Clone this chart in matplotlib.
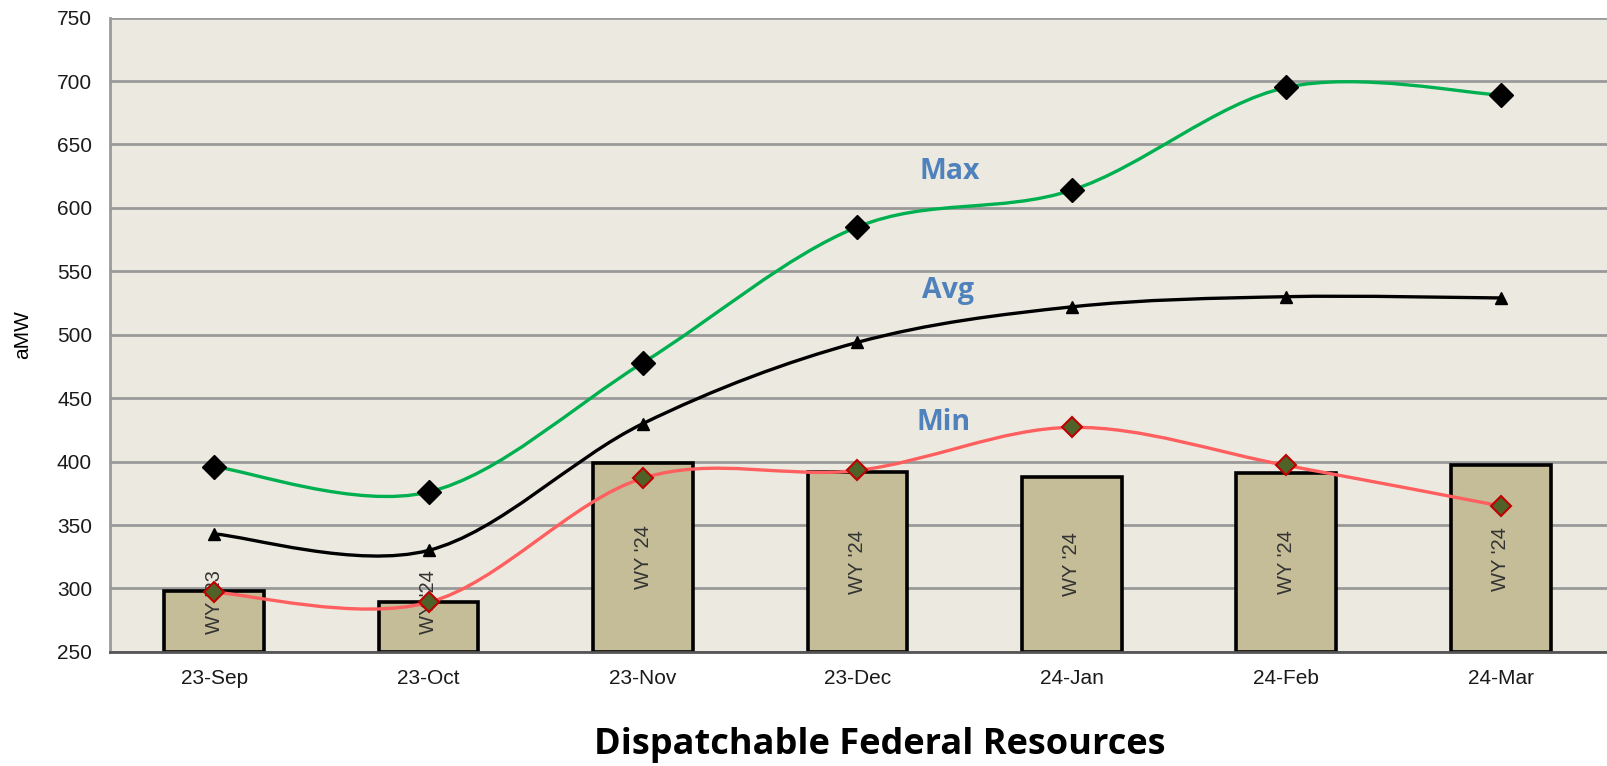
import numpy as np
import matplotlib
matplotlib.use('Agg')
import matplotlib.pyplot as plt
from matplotlib.path import Path
import matplotlib.patches as patches

# chart data
months = ['23-Sep', '23-Oct', '23-Nov', '23-Dec', '24-Jan', '24-Feb', '24-Mar']
bar_values = [298, 289, 399, 392, 388, 391, 397]
bar_labels = ["WY '23", "WY '24", "WY '24", "WY '24", "WY '24", "WY '24", "WY '24"]
max_values = [396, 376, 478, 585, 614, 695, 689]
avg_values = [343, 330, 430, 494, 522, 530, 529]
min_values = [297, 289, 387, 393, 427, 397, 365]


def smooth_path(xs, ys):
    """
    Bezier path through the points, similar to a spreadsheet 'smoothed line'.
    """
    pts = np.column_stack([xs, ys]).astype(float)
    n = len(pts)
    verts = [pts[0]]
    codes = [Path.MOVETO]
    for i in range(n - 1):
        p_prev = pts[i - 1] if i > 0 else pts[i]
        p_next2 = pts[i + 2] if i + 2 < n else pts[i + 1]
        c1 = pts[i] + (pts[i + 1] - p_prev) / 6.0
        c2 = pts[i + 1] - (p_next2 - pts[i]) / 6.0
        verts += [c1, c2, pts[i + 1]]
        codes += [Path.CURVE4] * 3
    return Path(verts, codes)


fig = plt.figure(figsize=(16.08, 7.66), dpi=100)
ax = fig.add_axes([0.0685, 0.149, 0.9315, 0.828])
ax.set_facecolor('#ECEAE0')

x = np.arange(len(months))

# bars
ax.bar(x, [v - 250 for v in bar_values], bottom=250, width=0.465,
       color='#C4BD97', edgecolor='black', linewidth=2.6, zorder=2)
for xi, v, lab in zip(x, bar_values, bar_labels):
    # short bars: label overflows above the bar
    ax.text(xi, max((v + 250) / 2, 289), lab, rotation=90, ha='center', va='center',
            fontsize=14.5, color='#333333', family='Liberation Sans', zorder=2.5)

# smoothed lines
for vals, col in [(max_values, '#00B050'), (avg_values, 'black'), (min_values, '#FF5F5F')]:
    ax.add_patch(patches.PathPatch(smooth_path(x, vals), facecolor='none',
                                   edgecolor=col, linewidth=2.4, zorder=3))

ax.plot(x, max_values, linestyle='none', marker='D', markersize=12.5,
        color='black', zorder=4)
ax.plot(x, avg_values, linestyle='none', marker='^', markersize=8.5,
        color='black', zorder=4)
ax.plot(x, min_values, linestyle='none', marker='D', markersize=10,
        markerfacecolor='#4F6228', markeredgecolor='#C00000', markeredgewidth=1.5, zorder=4)

# series labels
lab_font = dict(fontsize=20.5, fontweight='bold', color='#4F81BD', family='Open Sans',
                ha='center', va='center', zorder=5)
ax.text(3.43, 629, 'Max', **lab_font)
ax.text(3.42, 535, 'Avg', **lab_font)
ax.text(3.40, 431, 'Min', **lab_font)

# axes formatting
ax.set_xlim(-0.485, 6.5)
ax.set_ylim(250, 750)
ax.set_yticks(range(250, 751, 50))
ax.set_xticks(x)
ax.set_xticklabels(months)
ax.yaxis.grid(True, color='#9A9A9A', linewidth=2)
ax.set_axisbelow(True)
ax.tick_params(axis='both', length=0, labelsize=15, labelcolor='#1A1A1A')
ax.tick_params(axis='y', pad=13)
ax.tick_params(axis='x', pad=12)
for lab in ax.get_xticklabels() + ax.get_yticklabels():
    lab.set_family('Liberation Sans')
for side in ['top', 'right']:
    ax.spines[side].set_visible(False)
ax.spines['left'].set_color('#9A9A9A')
ax.spines['left'].set_linewidth(2)
ax.spines['bottom'].set_color('#555555')
ax.spines['bottom'].set_linewidth(2)

ax.set_ylabel('aMW', fontsize=15, family='Liberation Sans', labelpad=10)
ax.yaxis.set_label_coords(-0.052, 0.5)

fig.text(0.547, 0.027, 'Dispatchable Federal Resources', ha='center', va='center',
         fontsize=26, fontweight='bold', family='Open Sans')

fig.savefig('out.png', dpi=100)
